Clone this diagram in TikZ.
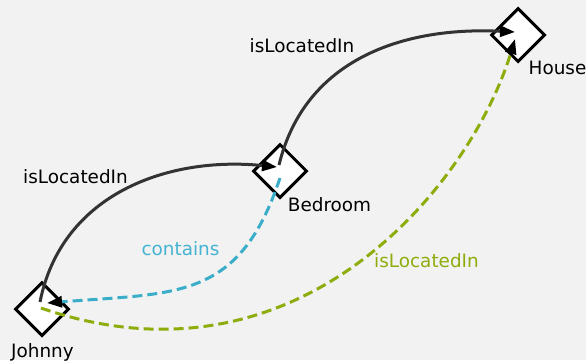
\documentclass[tikz,border=0pt]{standalone}
\usepackage{fontspec}
\setmainfont{DejaVu Sans}
\usetikzlibrary{shapes.geometric,arrows.meta}
\definecolor{bgc}{HTML}{F2F2F2}
\definecolor{relgray}{HTML}{333333}
\definecolor{relcyan}{HTML}{3AAEC8}
\definecolor{relgreen}{HTML}{8DAD0C}
\definecolor{lblcyan}{HTML}{45B3D1}
\definecolor{lblgreen}{HTML}{8DAD0C}
\begin{document}
\begin{tikzpicture}[x=1pt,y=-1pt,
  entity/.style={diamond,draw=black,fill=white,line width=3pt,minimum width=54pt,minimum height=54pt,inner sep=0pt},
  lbl/.style={font=\fontsize{18.4}{22}\selectfont,anchor=base,inner sep=0pt},
  rel/.style={line width=3pt,-{Triangle[length=15pt,width=11pt,color=black]}},
  reldash/.style={rel,dash pattern=on 10pt off 5pt}]
\useasboundingbox[fill=bgc] (0,0) rectangle (586,360);
\node[entity] (johnny) at (42,309) {};
\node[entity] (bedroom) at (280,171) {};
\node[entity] (house) at (518,35) {};
\coordinate (jout1) at ([shift={(-2,-7)}]johnny.center);
\coordinate (bin1) at ([shift={(-3,-4)}]bedroom.center);
\coordinate (bout2) at ([shift={(-1,-6)}]bedroom.center);
\coordinate (hin2) at ([shift={(-3,-3)}]house.center);
\coordinate (bout3) at ([shift={(0,7)}]bedroom.center);
\coordinate (jin3) at ([shift={(5,-6)}]johnny.center);
\coordinate (jout4) at ([shift={(-1,-1)}]johnny.center);
\coordinate (hin4) at ([shift={(-3,4)}]house.center);
\draw[rel,draw=relgray] (jout1) .. controls (61.6,194) and (167.6,156) .. (bin1);
\draw[rel,draw=relgray] (bout2) .. controls (305,58) and (405,26.5) .. (hin2);
\draw[reldash,draw=relcyan] (bout3) .. controls (239,301) and (177,292.6) .. (jin3);
\draw[reldash,draw=relgreen] (jout4) .. controls (301,397.6) and (471.5,182.5) .. (hin4);
\node[lbl] (ljohnny) at (42.5,357.5) {Johnny};
\node[lbl] (lbedroom) at (329.5,211) {Bedroom};
\node[lbl] (lhouse) at (557.5,74.5) {House};
\node[lbl] (l1) at (75.5,183) {isLocatedIn};
\node[lbl] (l2) at (302,52.5) {isLocatedIn};
\node[lbl,text=lblcyan] (l3) at (180.5,255) {contains};
\node[lbl,text=lblgreen] (l4) at (426.5,267.5) {isLocatedIn};
\end{tikzpicture}
\end{document}
